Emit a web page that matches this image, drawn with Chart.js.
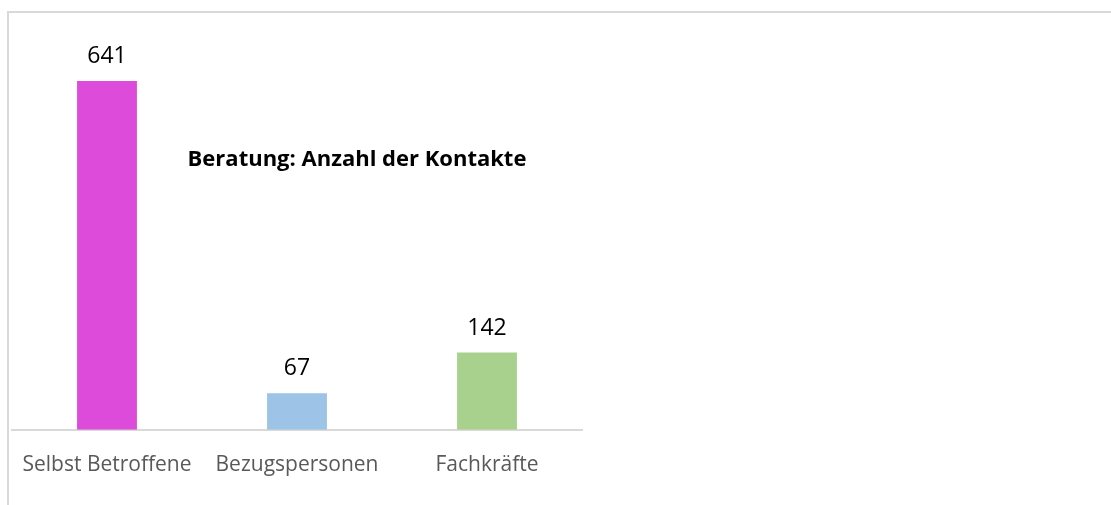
<!DOCTYPE html>
<html>
<head>
<meta charset="utf-8">
<script src="https://cdn.jsdelivr.net/npm/chart.js@4"></script>
<style>
  html, body { margin: 0; padding: 0; background: #fff; }
  #wrap { position: relative; width: 1111px; height: 505px; overflow: hidden; }
  #frame { position: absolute; left: 7px; top: 11px; width: 1120px; height: 520px;
           border-left: 2px solid #d9d9d9; border-top: 2px solid #d9d9d9; box-sizing: border-box; }
  canvas { position: absolute; left: 0; top: 0; }
</style>
</head>
<body>
<div id="wrap">
  <div id="frame"></div>
  <canvas id="chart" width="1111" height="505"></canvas>
</div>
<script>
// chart data
const categories = ["Selbst Betroffene", "Bezugspersonen", "Fachkräfte"];
const contacts = [641, 67, 142];
const barColors = ["#dc4bda", "#9dc3e6", "#a9d18e"];
const chartTitle = "Beratung: Anzahl der Kontakte";

const fontFamily = "'Open Sans', 'DejaVu Sans', sans-serif";

//draws the value above each bar
const valueLabels = {
    id: "valueLabels",
    afterDatasetsDraw(chart) {
        const ctx = chart.ctx;
        const meta = chart.getDatasetMeta(0);
        ctx.save();
        ctx.fillStyle = "#000";
        ctx.font = "23px " + fontFamily;
        ctx.textAlign = "center";
        ctx.textBaseline = "alphabetic";
        meta.data.forEach((bar, i) => {
            ctx.fillText(String(contacts[i]), bar.x, bar.y - 18);
        });
        ctx.restore();
    }
};

//title sits inside the plot area in the original
const innerTitle = {
    id: "innerTitle",
    afterDraw(chart) {
        const ctx = chart.ctx;
        ctx.save();
        ctx.fillStyle = "#000";
        ctx.font = "bold 22px " + fontFamily;
        ctx.textAlign = "center";
        ctx.textBaseline = "middle";
        ctx.fillText(chartTitle, 357, 160);
        ctx.restore();
    }
};

new Chart(document.getElementById("chart"), {
    type: "bar",
    data: {
        labels: categories,
        datasets: [{
            data: contacts,
            backgroundColor: barColors,
            borderWidth: 0,
            barPercentage: 0.63,
            categoryPercentage: 0.5
        }]
    },
    options: {
        responsive: false,
        animation: false,
        layout: { padding: { left: 12, right: 529, top: 20, bottom: 4 } },
        plugins: {
            legend: { display: false },
            tooltip: { enabled: false },
            title: { display: false }
        },
        scales: {
            x: {
                grid: { display: false, drawTicks: false },
                border: { display: true, color: "#d9d9d9", width: 2 },
                ticks: { color: "#595959", font: { family: fontFamily, size: 21 }, padding: 23 },
                //the long first label should not push the plot area in
                afterFit(scale) {
                    scale.paddingLeft = 0;
                    scale.paddingRight = 0;
                }
            },
            y: {
                display: false,
                min: 0,
                max: 753
            }
        }
    },
    plugins: [valueLabels, innerTitle]
});
</script>
</body>
</html>
